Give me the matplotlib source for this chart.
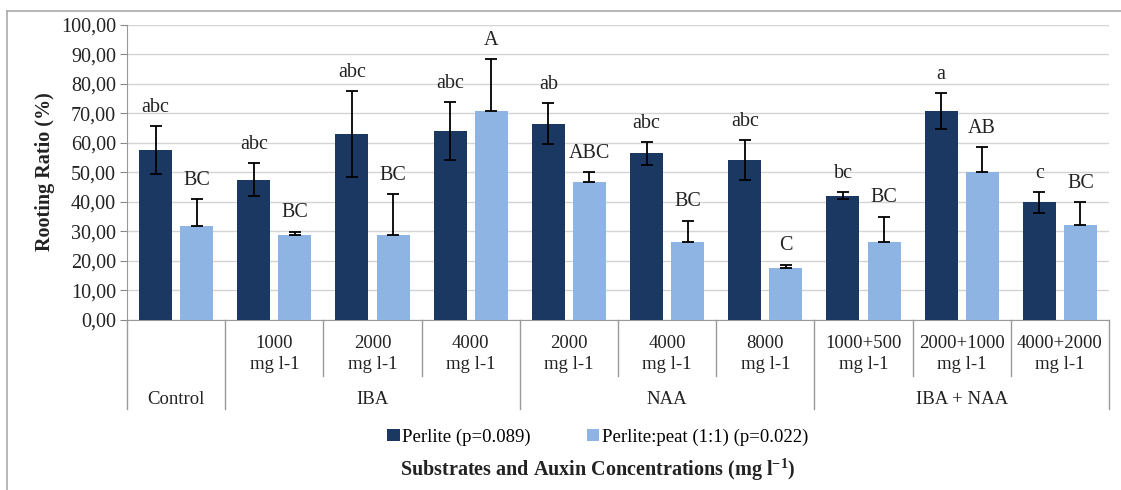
import matplotlib
matplotlib.use("Agg")
import matplotlib.pyplot as plt
import numpy as np
from matplotlib.ticker import FuncFormatter
from matplotlib.transforms import blended_transform_factory
from matplotlib.lines import Line2D

plt.rcParams['font.family'] = ['Liberation Serif', 'DejaVu Serif']
plt.rcParams['mathtext.fontset'] = 'custom'
plt.rcParams['mathtext.rm'] = 'Liberation Serif'
plt.rcParams['mathtext.bf'] = 'Liberation Serif:bold'

# ---- data ----
conc_labels = ["", "1000\nmg l-1", "2000\nmg l-1", "4000\nmg l-1",
               "2000\nmg l-1", "4000\nmg l-1", "8000\nmg l-1",
               "1000+500\nmg l-1", "2000+1000\nmg l-1", "4000+2000\nmg l-1"]
group_names = ["Control", "IBA", "NAA", "IBA + NAA"]
group_sizes = [1, 3, 3, 3]
series_names = ["Perlite (p=0.089)", "Perlite:peat (1:1) (p=0.022)"]
perlite = [57.6, 47.6, 63.1, 64.1, 66.5, 56.5, 54.2, 42.1, 70.9, 39.9]
perlite_err = [8.1, 5.6, 14.5, 9.7, 7.0, 3.8, 6.8, 1.2, 6.0, 3.5]
peat = [32.0, 28.7, 28.7, 70.9, 46.7, 26.6, 17.7, 26.6, 50.0, 32.1]
peat_err = [8.9, 1.2, 13.9, 17.5, 3.3, 7.0, 1.1, 8.4, 8.5, 7.8]
perlite_letters = ["abc", "abc", "abc", "abc", "ab", "abc", "abc", "bc", "a", "c"]
peat_letters = ["BC", "BC", "BC", "A", "ABC", "BC", "C", "BC", "AB", "BC"]

dark = "#1a3862"
light = "#8db4e2"

W, H = 1121, 490
fig = plt.figure(figsize=(W / 100, H / 100), dpi=100)
ax = fig.add_axes([127 / W, 1 - 320 / H, (1109 - 127) / W, 295 / H])

n = len(perlite)
x = np.arange(n)
bw = 0.336
off = 0.209

ax.bar(x - off, perlite, bw, color=dark, label=series_names[0], zorder=3)
ax.bar(x + off, peat, bw, color=light, label=series_names[1], zorder=3)
ax.errorbar(x - off, perlite, yerr=perlite_err, fmt="none", ecolor="black",
            elinewidth=1.3, capsize=4.5, capthick=1.3, zorder=4)
ax.errorbar(x + off, peat, yerr=[np.zeros(n), peat_err], fmt="none", ecolor="black",
            elinewidth=1.3, capsize=4.5, capthick=1.3, zorder=4)

for i in range(n):
    ax.text(x[i] - off, perlite[i] + perlite_err[i] + 3.2, perlite_letters[i],
            ha="center", va="bottom", fontsize=14.5, color="#222222")
    ax.text(x[i] + off, peat[i] + peat_err[i] + 3.2, peat_letters[i],
            ha="center", va="bottom", fontsize=14.5, color="#222222")

ax.set_xlim(-0.5, n - 0.5)
ax.set_ylim(0, 100)
ax.set_yticks(np.arange(0, 101, 10))
ax.yaxis.set_major_formatter(FuncFormatter(lambda v, p: f"{v:.2f}".replace(".", ",")))
ax.tick_params(axis="y", labelsize=14.5, length=5, color="#888888", pad=3, labelcolor="#222222")
ax.set_xticks([])
ax.grid(axis="y", color="#d4d4d4", linewidth=1.0, zorder=0)
for s in ["top", "right"]:
    ax.spines[s].set_visible(False)
ax.spines["left"].set_color("#999999")
ax.spines["bottom"].set_color("#999999")

# multi-level category axis
tr = blended_transform_factory(ax.transData, ax.transAxes)
short_y = (320 - 376) / 295
long_y = (320 - 409) / 295
bounds_long = set(np.cumsum([0] + group_sizes))
for b in range(n + 1):
    yb = long_y if b in bounds_long else short_y
    ax.plot([b - 0.5, b - 0.5], [0, yb], transform=tr, color="#999999",
            linewidth=1.0, clip_on=False)
row1_y = (320 - 354) / 295
for i, lab in enumerate(conc_labels):
    ax.text(x[i], row1_y, lab, transform=tr, ha="center", va="center",
            fontsize=13.5, linespacing=1.25, color="#222222")
row2_y = (320 - 399) / 295
start = 0
for name, size in zip(group_names, group_sizes):
    ax.text(start + (size - 1) / 2, row2_y, name, transform=tr, ha="center",
            va="center", fontsize=13.5, color="#222222")
    start += size

fig.text(45 / W, 1 - 172 / H, "Rooting Ratio (%)", rotation=90, ha="center",
         va="center", fontsize=14.5, fontweight="bold", color="#222222")

fig.legend(loc="center", bbox_to_anchor=(598 / W, 1 - 437 / H), ncol=2,
           frameon=False, fontsize=13.5, handlelength=0.65, handleheight=0.65,
           handletextpad=0.15, columnspacing=3.0)

fig.text(598 / W, 1 - 470 / H,
         r"Substrates and Auxin Concentrations (mg l$^{\mathbf{-1}}$)",
         ha="center", va="center", fontsize=14.5, fontweight="bold", color="#222222")

# outer frame: left and top edges only
fig.add_artist(Line2D([7 / W, 7 / W], [0, 1 - 11 / H], transform=fig.transFigure,
                      color="#aaaaaa", linewidth=1.2))
fig.add_artist(Line2D([7 / W, 1], [1 - 11 / H, 1 - 11 / H], transform=fig.transFigure,
                      color="#aaaaaa", linewidth=1.2))

fig.savefig("out.png", dpi=100)
